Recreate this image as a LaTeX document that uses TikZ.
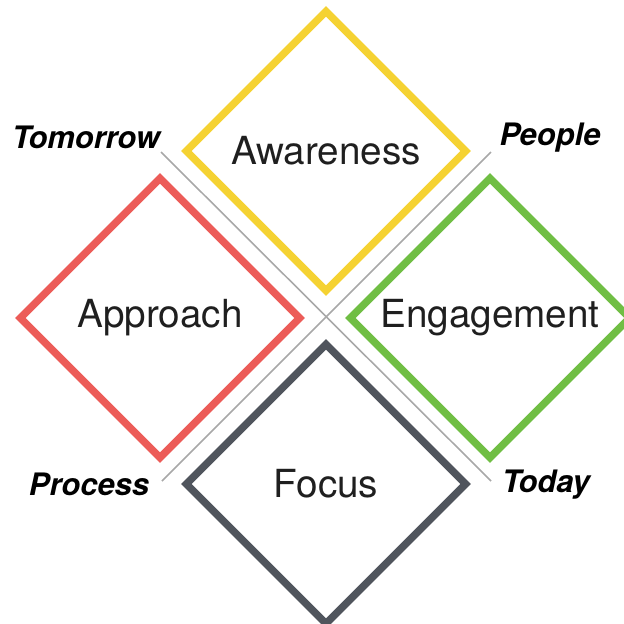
\documentclass[tikz,border=0pt]{standalone}
\usepackage{fontspec}
\setmainfont{TeX Gyre Heros}
\usetikzlibrary{shapes.geometric,positioning}

\definecolor{awareyellow}{RGB}{245,210,50}
\definecolor{approachred}{RGB}{236,92,88}
\definecolor{engagegreen}{RGB}{112,190,68}
\definecolor{focusgray}{RGB}{80,85,93}
\definecolor{crossgray}{RGB}{168,168,168}

\begin{document}
\begin{tikzpicture}[x=0.01cm,y=-0.01cm,
  quad/.style={diamond,aspect=1,draw,line width=2.1pt,minimum size=2.82cm,
    inner sep=0pt,text=black!88,font=\fontsize{11}{13}\selectfont},
  corner/.style={inner sep=0pt,font=\fontsize{8.8}{10}\selectfont\bfseries\itshape}
]
\useasboundingbox (0,0) rectangle (623,624);

\coordinate (tl) at (161,152);
\coordinate (tr) at (491,152);
\coordinate (bl) at (162,481);
\coordinate (br) at (491,481);
\draw[crossgray,line width=0.45pt] (tl) -- (br);
\draw[crossgray,line width=0.45pt] (tr) -- (bl);

\node[quad,draw=awareyellow] (awareness) at (326,151) {Awareness};
\node[quad,draw=approachred] (approach) at (160,318) {Approach};
\node[quad,draw=engagegreen] (engagement) at (490,318) {Engagement};
\node[quad,draw=focusgray] (focus) at (326,484) {Focus};

\node[corner] (tomorrow) at (86,137) {Tomorrow};
\node[corner] (people) at (550,138) {People};
\node[corner] (process) at (89,484) {Process};
\node[corner] (today) at (546,485) {Today};
\end{tikzpicture}
\end{document}
